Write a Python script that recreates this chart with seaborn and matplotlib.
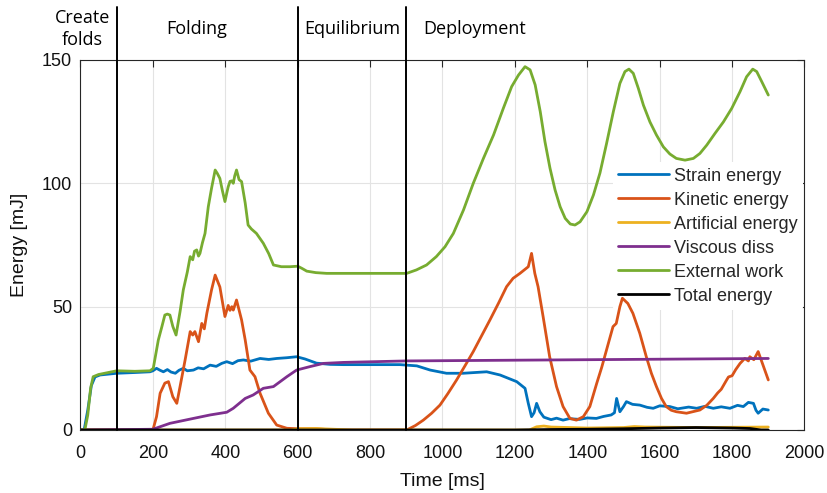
import matplotlib
matplotlib.use("Agg")
import matplotlib.pyplot as plt
import seaborn as sns
import pandas as pd

# ---------------- data ----------------
series_names = ["Strain energy", "Kinetic energy", "Artificial energy",
                "Viscous diss", "External work", "Total energy"]
series_colors = ["#0072BD", "#D95319", "#EDB120", "#7E2F8E", "#77AC30", "#000000"]

strain_energy = [(0, 0), (10, 0), (20, 8), (30, 18), (40, 21.5), (54, 22.3), (100, 23),
                 (150, 23.3), (192, 23.6), (200, 24), (210, 25), (220, 24.2), (229, 23.6),
                 (240, 24.5), (250, 23.5), (262, 23), (272, 24.2), (284, 25), (295, 24),
                 (312, 24.3), (325, 25.2), (340, 24.8), (358, 26.3), (375, 25.8), (390, 27),
                 (404, 27.7), (420, 26.9), (435, 28.1), (450, 28.4), (470, 27.9), (496, 29),
                 (520, 28.6), (542, 29), (570, 29.3), (597, 29.7), (620, 28.8), (652, 27.1),
                 (690, 26.6), (726, 26.5), (800, 26.5), (883, 26.5), (901, 26.3), (929, 26),
                 (966, 24.3), (1011, 23), (1057, 23), (1122, 23.6), (1159, 22.3), (1205, 19.6),
                 (1228, 16.9), (1237, 10.8), (1246, 5.4), (1253, 7), (1260, 10.8), (1269, 7.4),
                 (1280, 5.2), (1300, 4.2), (1315, 4.8), (1333, 4), (1350, 4.6), (1379, 4.3),
                 (1400, 4.9), (1425, 4.7), (1445, 5.5), (1466, 6.1), (1475, 7), (1481, 12.8),
                 (1490, 7.4), (1500, 9.5), (1508, 11.5), (1525, 10.4), (1545, 10.1),
                 (1565, 9.2), (1582, 8.8), (1600, 9.8), (1628, 9.5), (1650, 8.6), (1680, 9.3),
                 (1702, 8.8), (1725, 9.6), (1748, 8.8), (1770, 9.4), (1794, 8.8), (1815, 10),
                 (1831, 9.5), (1845, 11.2), (1859, 10.8), (1866, 8), (1872, 6.8), (1885, 8.5),
                 (1900, 8.1)]

kinetic_energy = [(0, 0), (200, 0), (210, 5.4), (220, 14.9), (233, 19), (243, 19.6),
                  (255, 13.5), (266, 10.8), (275, 17.6), (289, 28.4), (303, 39.9),
                  (310, 38.5), (316, 39.9), (326, 35.8), (335, 43.2), (342, 41), (349, 47.3),
                  (362, 56.8), (372, 62.8), (385, 58), (392, 52), (399, 46), (408, 50.5),
                  (413, 48.5), (418, 50), (422, 48.6), (431, 52.7), (445, 44.6), (455, 36.5),
                  (468, 24.3), (482, 21.6), (496, 14.9), (519, 6.8), (542, 2), (570, 0.7),
                  (600, 0.5), (650, 0.5), (700, 0), (901, 0), (925, 1.8), (947, 4),
                  (970, 6.8), (993, 10.1), (1015, 14.8), (1039, 20.3), (1062, 26),
                  (1085, 31.8), (1108, 38.2), (1131, 44.6), (1155, 51.5), (1177, 58.1),
                  (1195, 61.5), (1214, 63.5), (1237, 66.2), (1246, 71.6), (1255, 63.5),
                  (1264, 58.1), (1278, 45.9), (1296, 29.7), (1315, 17.6), (1333, 9.5),
                  (1352, 4.7), (1370, 4), (1389, 5.4), (1407, 9.5), (1426, 18.9),
                  (1440, 25.5), (1453, 32.4), (1471, 41.9), (1480, 43.2), (1490, 50),
                  (1497, 53.4), (1512, 51.3), (1526, 47.3), (1545, 39.2), (1563, 29.7),
                  (1577, 23), (1591, 17.6), (1605, 12.8), (1618, 9.5), (1632, 8),
                  (1646, 7.4), (1674, 6.8), (1711, 8.1), (1730, 10), (1748, 12.8),
                  (1760, 15), (1770, 16.5), (1785, 20.3), (1790, 21.5), (1800, 22),
                  (1810, 24.5), (1822, 27), (1835, 29), (1845, 28), (1849, 29.7),
                  (1860, 28.5), (1872, 31.8), (1882, 27.7), (1900, 20.3)]

artificial_energy = [(0, 0), (580, 0), (600, 0.5), (650, 0.6), (700, 0.3), (750, 0),
                     (1240, 0), (1260, 1.3), (1280, 1.6), (1300, 1.2), (1400, 0.8),
                     (1500, 1.0), (1530, 1.4), (1560, 1.2), (1700, 1.0), (1800, 1.1),
                     (1900, 1.2)]

viscous_diss = [(0, 0), (200, 0.3), (247, 2.7), (312, 4.7), (358, 6.1), (404, 7.2),
                (422, 8.8), (455, 12.8), (477, 14.2), (505, 16.9), (533, 17.6), (570, 21.6),
                (597, 24.3), (634, 25.7), (671, 27), (726, 27.4), (900, 28), (1900, 29)]

external_work = [(0, 0), (12, 0), (20, 6), (28, 17), (35, 21.6), (50, 22.5), (100, 24),
                 (150, 23.8), (192, 24), (201, 25), (215, 36.5), (225, 42), (233, 46.6),
                 (240, 47), (247, 46.6), (255, 42), (264, 38.5), (275, 48), (284, 56.8),
                 (295, 64), (303, 70.3), (310, 69), (315, 72.5), (321, 73), (326, 70.5),
                 (330, 71.6), (337, 76), (344, 79.7), (353, 90.5), (362, 98), (372, 105.4),
                 (378, 104), (385, 102), (392, 97), (399, 92.6), (404, 96), (408, 98.6),
                 (413, 100.8), (418, 101), (422, 100), (426, 103), (431, 105.4),
                 (438, 101.5), (445, 100.7), (455, 92), (463, 83.1), (472, 81.5),
                 (486, 79.7), (505, 75.7), (520, 71.5), (533, 66.9), (555, 66.2),
                 (579, 66.2), (600, 66.4), (612, 65.5), (625, 64.4), (650, 63.8),
                 (680, 63.5), (883, 63.5), (901, 63.5), (928, 64.9), (956, 66.9),
                 (983, 70.3), (1007, 74.3), (1030, 79.7), (1058, 89.2), (1085, 100),
                 (1113, 110.1), (1141, 119.6), (1168, 130.4), (1191, 139.2), (1210, 143.9),
                 (1228, 147.3), (1242, 146), (1256, 139.9), (1270, 129.1), (1283, 116.9),
                 (1297, 106.1), (1311, 97.3), (1325, 90.5), (1339, 85.8), (1353, 83.5),
                 (1366, 83.1), (1380, 84.4), (1399, 88.5), (1417, 95.3), (1435, 104.2),
                 (1453, 116), (1472, 129.1), (1490, 140.5), (1504, 145.3), (1515, 146.3),
                 (1527, 144.6), (1541, 138.5), (1555, 131.7), (1573, 124.9), (1591, 119.6),
                 (1610, 114.8), (1628, 111.9), (1646, 110.1), (1670, 109.4), (1693, 110.1),
                 (1711, 112.1), (1730, 115.5), (1753, 120.3), (1776, 124.9), (1799, 130.4),
                 (1822, 137.2), (1840, 143.2), (1857, 146.3), (1868, 145.3), (1882, 141.2),
                 (1900, 135.8)]

total_energy = [(0, 0), (1200, 0), (1300, 0.2), (1400, 0.3), (1500, 0.5), (1600, 0.8),
                (1700, 1.0), (1800, 0.8), (1850, 0.6), (1880, 0), (1900, 0)]

phase_bounds = [100, 600, 900]
phase_labels = ["Create\nfolds", "Folding", "Equilibrium", "Deployment"]
phase_label_x = [5, 320, 750, 1090]

x_ticks = [0, 200, 400, 600, 800, 1000, 1200, 1400, 1600, 1800, 2000]
y_ticks = [0, 50, 100, 150]

# ---------------- build table ----------------
all_series = [strain_energy, kinetic_energy, artificial_energy,
              viscous_diss, external_work, total_energy]
rows = []
for name, pts in zip(series_names, all_series):
    for t, e in pts:
        rows.append({"Time": t, "Energy": e, "Series": name})
df = pd.DataFrame(rows)

# ---------------- style ----------------
sns.set_theme(style="white")
plt.rcParams["font.family"] = ["Liberation Sans", "DejaVu Sans"]
plt.rcParams["axes.edgecolor"] = "#262626"
plt.rcParams["xtick.color"] = "#262626"
plt.rcParams["ytick.color"] = "#262626"

fig = plt.figure(figsize=(8.28, 4.93), dpi=100)
ax = fig.add_axes([80.5 / 828, 63 / 493, 724 / 828, 370 / 493])

sns.lineplot(data=df, x="Time", y="Energy", hue="Series", hue_order=series_names,
             palette=dict(zip(series_names, series_colors)), estimator=None,
             sort=True, linewidth=2.0, ax=ax, legend=True)

ax.set_xlim(0, 2000)
ax.set_ylim(0, 150)
ax.set_xticks(x_ticks)
ax.set_yticks(y_ticks)
ax.grid(True, color="#e3e3e3", linewidth=0.8)
ax.set_axisbelow(True)
for s in ax.spines.values():
    s.set_visible(True)
    s.set_linewidth(0.8)
    s.set_color("#262626")
ax.tick_params(axis="both", direction="in", length=5, width=0.8,
               top=True, right=True, labelsize=13, labelcolor="#111111")
ax.tick_params(axis="x", pad=10.5)
ax.tick_params(axis="y", pad=6)

ax.set_xlabel("Time [ms]", fontsize=14, color="#111111")
ax.set_ylabel("Energy [mJ]", fontsize=14, color="#111111")
ax.xaxis.set_label_coords(0.5, -0.116)
ax.yaxis.set_label_coords(-0.073, 0.5)

# phase boundaries extending above the axes
for b in phase_bounds:
    ax.axvline(b, ymin=0, ymax=171.5 / 150, color="black", linewidth=1.4,
               clip_on=False, zorder=5)
for lab, xl in zip(phase_labels, phase_label_x):
    ax.text(xl, 162.5, lab, ha="center", va="center", fontsize=13,
            family=["Open Sans", "DejaVu Sans"], color="black",
            linespacing=1.25, clip_on=False)

# legend (drawn beneath the data lines, above the grid)
handles, labels = ax.get_legend_handles_labels()
leg = ax.legend(handles, labels, loc="upper left", bbox_to_anchor=(0.735, 0.724),
                fontsize=13, frameon=True, facecolor="white", edgecolor="white",
                framealpha=1, handlelength=2.8, handletextpad=0.3,
                labelspacing=0.39, borderpad=0.3, borderaxespad=0)
leg.get_frame().set_linewidth(0)
leg.set_zorder(1.5)
for h in leg.get_lines():
    h.set_linewidth(2.0)

fig.savefig("out.png", dpi=100)
